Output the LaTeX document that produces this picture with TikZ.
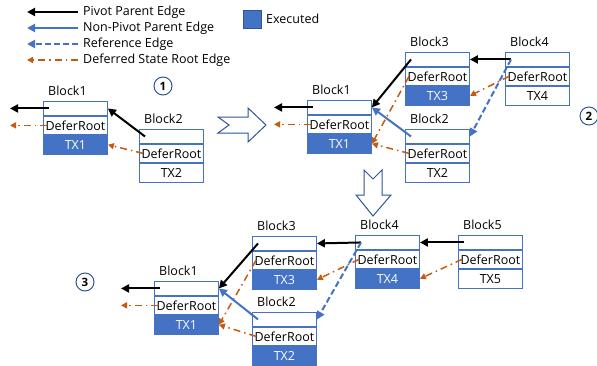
\documentclass[tikz,border=0pt]{standalone}
\usepackage{fontspec}
\setmainfont{Open Sans}
\usetikzlibrary{arrows.meta,calc}
\definecolor{bblue}{HTML}{4472C4}
\definecolor{bord}{HTML}{2F5597}
\definecolor{orng}{HTML}{C55A11}
\tikzset{
 cell/.style={draw=bblue, line width=0.9pt, minimum width=64pt, inner sep=0pt, font=\fontsize{12.5}{13}\selectfont},
 toprow/.style={cell, minimum height=14pt, fill=white},
 drow/.style={cell, minimum height=18pt, fill=white},
 txw/.style={cell, minimum height=19pt, fill=white},
 txb/.style={cell, minimum height=19pt, fill=bblue, text=white},
 blbl/.style={anchor=west, inner sep=0pt, font=\fontsize{12.5}{13}\selectfont},
 legtxt/.style={anchor=west, inner sep=0pt, font=\fontsize{12.5}{13}\selectfont},
 pivot/.style={draw=black, line width=2pt, -{Triangle[length=8pt,width=8pt]}},
 npivot/.style={draw=bblue, line width=2pt, -{Triangle[length=8pt,width=8pt]}},
 refe/.style={draw=bblue, line width=2pt, dash pattern=on 6pt off 3pt, -{Triangle[length=8pt,width=8pt]}},
 dsr/.style={draw=orng, line width=1.5pt, dash pattern=on 7pt off 4pt on 1.5pt off 4pt, -{Triangle[length=6pt,width=6pt]}},
 stepno/.style={circle, draw=bord, line width=1pt, minimum size=18pt, inner sep=0pt, font=\fontsize{11.5}{12}\selectfont\bfseries},
 hollow/.style={draw=bord, line width=1pt, fill=white},
}
\newcommand{\blk}[6]{%
 \node[toprow, anchor=north west] (#1t) at (#2,#3) {};
 \node[drow, anchor=north] (#1d) at (#1t.south) {DeferRoot};
 \node[#5, anchor=north] (#1x) at (#1d.south) {#6};
 \node[blbl] (#1l) at (#2+5,#3-10) {#4};
 \coordinate (#1s) at ($(#1t.west)+(6pt,0)$);
 \coordinate (#1r) at ($(#1d.west)+(4pt,0)$);
 \coordinate (#1o) at ($(#1t.west)+(-33pt,0)$);
 \coordinate (#1p) at ($(#1d.west)+(-33pt,0)$);
}
\begin{document}
\begin{tikzpicture}[x=1pt,y=-1pt]
\useasboundingbox (0,0) rectangle (597,365);
% legend
\coordinate (L1a) at (78,12); \coordinate (L1b) at (27,12);
\coordinate (L2a) at (78,28); \coordinate (L2b) at (27,28);
\coordinate (L3a) at (78,44); \coordinate (L3b) at (27,44);
\coordinate (L4a) at (78,60); \coordinate (L4b) at (27,60);
\draw[pivot] (L1a) -- (L1b);
\draw[npivot] (L2a) -- (L2b);
\draw[refe] (L3a) -- (L3b);
\draw[dsr] (L4a) -- (L4b);
\node[legtxt] (t1) at (83,12) {Pivot Parent Edge};
\node[legtxt] (t2) at (83,28) {Non-Pivot Parent Edge};
\node[legtxt] (t3) at (83,44) {Reference Edge};
\node[legtxt] (t4) at (83,60) {Deferred State Root Edge};
\node[fill=bblue, draw=bord, line width=0.6pt, minimum size=18pt, inner sep=0pt, anchor=north west] (ex) at (243,10) {};
\node[legtxt] (ext) at (266,19) {Executed};
% step numbers
\node[stepno] (n1) at (163,86) {1};
\node[stepno] (n2) at (589,116) {2};
\node[stepno] (n3) at (85,282) {3};
% hollow arrows
\draw[hollow] (218,117) -- (248,117) -- (248,108) -- (266,125) -- (248,142) -- (248,133) -- (218,133) -- (229,125) -- cycle;
\draw[hollow] (364,170) -- (373,179) -- (382,170) -- (382,195) -- (391,195) -- (373,216) -- (356,195) -- (364,195) -- cycle;
% panel 1
\blk{A1}{43}{101}{Block1}{txb}{TX1}
\blk{A2}{139}{129}{Block2}{txw}{TX2}
\draw[pivot] (A1s) -- (A1o);
\draw[dsr] (A1r) -- (A1p);
\draw[pivot] (A2s) -- (A1t.east);
\draw[dsr] (A2r) -- (A1x.east);
% panel 2
\blk{B1}{307}{100}{Block1}{txb}{TX1}
\blk{B3}{405}{52}{Block3}{txb}{TX3}
\blk{B2}{405}{129}{Block2}{txw}{TX2}
\blk{B4}{505}{52}{Block4}{txw}{TX4}
\draw[pivot] (B1s) -- (B1o);
\draw[dsr] (B1r) -- (B1p);
\draw[dsr] (B3r) -- (B1x.east);
\draw[dsr] (B2r) -- (B1x.east);
\draw[pivot] (B3s) -- (B1t.east);
\draw[npivot] (B2s) -- (B1t.east);
\draw[dsr] (B4r) -- (B3x.east);
\draw[pivot] (B4s) -- (B3t.east);
\draw[refe] (B4s) -- (B2t.east);
% panel 3
\blk{C1}{154}{281}{Block1}{txb}{TX1}
\blk{C3}{252}{236}{Block3}{txb}{TX3}
\blk{C2}{252}{312}{Block2}{txb}{TX2}
\blk{C4}{355}{235}{Block4}{txb}{TX4}
\blk{C5}{458}{235}{Block5}{txw}{TX5}
\draw[pivot] (C1s) -- (C1o);
\draw[dsr] (C1r) -- (C1p);
\draw[dsr] (C3r) -- (C1x.east);
\draw[dsr] (C2r) -- (C1x.east);
\draw[pivot] (C3s) -- (C1t.east);
\draw[npivot] (C2s) -- (C1t.east);
\draw[dsr] (C4r) -- (C3x.east);
\draw[pivot] (C4s) -- (C3t.east);
\draw[refe] (C4s) -- (C2t.east);
\draw[dsr] (C5r) -- (C4x.east);
\draw[pivot] (C5s) -- (C4t.east);
\end{tikzpicture}
\end{document}
